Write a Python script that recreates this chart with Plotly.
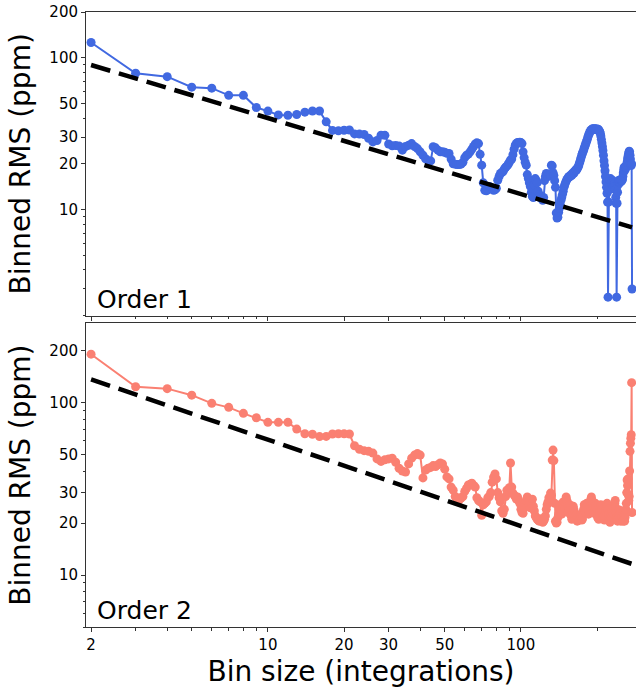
import plotly.graph_objects as go

# Bin sizes (integrations) shared by both orders
bin_size = list(range(2, 276))

# Binned RMS (ppm), Order 1, bin sizes 2..275
rms_order1 = [
    126, 79, 75, 64, 63, 56.5, 56.5, 47, 44.5, 42,
    41.8, 42.3, 43.8, 44.6, 44.6, 37.8, 33.2, 33.0, 33.3, 33.4,
    31.5, 31.4, 31.2, 29.5, 27.9, 28.5, 30.9, 30.8, 27.0, 26.3,
    26.4, 26.2, 24.6, 26.0, 26.5, 27.2, 26.0, 25.2, 24.0, 22.8,
    21.6, 21.0, 20.9, 25.9, 25.5, 24.6, 24.0, 24.0, 23.8, 23.5,
    23.4, 21.5, 20.0, 19.9, 19.8, 19.8, 19.9, 20.5, 22.0, 22.8,
    23.2, 24.0, 25.0, 26.0, 27.0, 27.5, 27.2, 23.1, 19.6, 15.0,
    13.4, 13.3, 13.5, 14.2, 14.0, 13.8, 13.4, 13.5, 13.8, 15.6,
    16.5, 17.3, 17.5, 17.8, 18.5, 19.0, 19.3, 19.8, 20.5, 21.2,
    21.5, 23.0, 25.0, 26.5, 27.3, 27.6, 27.5, 27.8, 27.6, 27.2,
    24.0, 22.0, 20.5, 19.6, 17.0, 16.0, 15.0, 14.2, 13.0, 12.2,
    12.0, 14.5, 16.0, 15.5, 15.0, 13.2, 12.5, 12.0, 12.3, 11.8,
    11.5, 12.0, 15.5, 16.5, 17.3, 17.0, 16.5, 17.0, 17.2, 16.8,
    19.6, 19.4, 17.5, 16.8, 15.5, 14.0, 9.5, 8.8, 8.9, 9.6,
    10.2, 10.8, 11.5, 12.0, 12.6, 13.2, 14.0, 14.5, 15.0, 15.4,
    15.8, 16.0, 16.3, 16.5, 16.4, 16.7, 17.0, 16.8, 17.2, 17.5,
    17.3, 17.8, 18.0, 18.3, 18.2, 18.6, 19.0, 19.3, 20.0, 20.6,
    21.3, 22.0, 22.8, 23.5, 24.0, 24.6, 25.5, 26.0, 26.8, 27.5,
    28.3, 29.0, 30.0, 30.8, 31.5, 32.2, 32.8, 33.2, 33.6, 33.8,
    34.0, 33.8, 34.0, 33.7, 33.9, 34.0, 33.8, 33.5, 33.9, 33.6,
    33.8, 33.4, 33.0, 32.6, 31.8, 30.5, 29.0, 27.5, 26.0, 24.5,
    22.8, 21.0, 19.5, 18.0, 16.5, 15.2, 14.0, 12.8, 11.2, 2.65,
    11.2, 13.5, 15.0, 15.6, 16.0, 15.4, 14.8, 15.2, 15.6, 15.0,
    14.4, 14.0, 14.6, 14.2, 13.5, 12.0, 11.0, 2.65, 11.0, 13.0,
    14.5, 15.2, 15.6, 15.3, 15.0, 15.2, 15.5, 15.6, 15.4, 15.6,
    15.8, 16.5, 17.5, 18.3, 19.0, 18.6, 18.2, 18.8, 19.3, 19.0,
    19.6, 20.5, 21.5, 22.3, 23.0, 23.6, 24.2, 24.0, 22.8, 21.5,
    20.0, 19.5, 20.0, 3.0,
]

# Binned RMS (ppm), Order 2, bin sizes 2..275
rms_order2 = [
    190, 123, 120, 110, 98.6, 93.5, 86.3, 81.4, 76.6, 76.6,
    76.6, 70, 65.8, 65.3, 63.3, 63.5, 65.5, 65.8, 65.8, 65.5,
    56, 53.5, 52.5, 52, 50.8, 47, 45.5, 46.5, 47, 47.5,
    45, 41.5, 40, 39.5, 44, 47.5, 49.5, 50.5, 49.5, 36.5,
    40.5, 41.5, 42, 43, 42.5, 43.5, 44.5, 44, 41, 37,
    36, 32.3, 31, 28.5, 27.5, 27.2, 27.9, 28.5, 30.5, 31.8,
    33.2, 33.5, 34, 33, 32.3, 28, 27, 26.5, 22.2, 25.5,
    26.0, 26.5, 28.0, 28.5, 30.0, 34.5, 36.9, 38.5, 36.0, 30.0,
    28.0, 26.5, 23.5, 22.8, 24.0, 28.5, 31.0, 30.5, 32.0, 44.5,
    32.3, 29.8, 29.0, 28.5, 27.5, 28.3, 27.0, 26.0, 24.0, 23.0,
    22.8, 24.5, 26.0, 27.0, 28.3, 26.5, 25.5, 24.5, 26.0, 27.5,
    25.0, 23.5, 22.0, 21.5, 21.0, 20.8, 20.5, 20.8, 21.2, 20.5,
    20.2, 20.5, 21.0, 22.0, 24.0, 25.5, 26.5, 28.0, 27.0, 29.8,
    29.0, 46.3, 52.9, 46.0, 26.0, 20.5, 20.0, 20.2, 21.5, 22.5,
    24.0, 25.5, 23.5, 22.5, 25.0, 26.5, 25.5, 24.5, 26.0, 28.3,
    27.0, 25.0, 23.0, 24.5, 25.5, 23.8, 22.0, 21.0, 22.5, 25.0,
    24.0, 22.8, 21.5, 22.0, 21.0, 20.5, 21.0, 21.2, 20.8, 21.5,
    22.5, 21.5, 20.8, 21.0, 22.0, 24.0, 25.5, 24.0, 23.0, 24.5,
    26.0, 24.8, 23.5, 22.5, 23.5, 25.0, 26.5, 27.5, 28.3, 27.0,
    25.5, 24.0, 23.0, 22.8, 24.5, 26.0, 25.0, 23.8, 22.5, 21.5,
    22.0, 21.0, 21.5, 23.0, 24.5, 25.5, 24.0, 23.0, 22.8, 22.0,
    21.5, 21.0, 20.8, 21.5, 22.0, 23.5, 24.8, 26.0, 25.0, 24.0,
    22.5, 21.0, 20.5, 20.2, 21.0, 21.5, 22.5, 24.0, 23.5, 22.0,
    21.5, 22.5, 24.0, 26.0, 27.0, 24.5, 22.8, 21.5, 21.0, 20.5,
    20.8, 21.5, 22.5, 23.8, 22.5, 21.0, 20.5, 21.0, 22.0, 21.5,
    20.8, 20.5, 21.2, 22.0, 21.0, 20.5, 21.5, 22.5, 24.0, 26.0,
    30.0, 35.5, 33.0, 36.0, 29.0, 27.0, 28.5, 40.0, 52.0, 58.0,
    62.0, 65.0, 130.0, 23.0,
]

# White-noise expectation: sigma / sqrt(bin size)
sigma_order1 = 126.6
sigma_order2 = 192.2
expected_order1 = [sigma_order1 / n ** 0.5 for n in bin_size]
expected_order2 = [sigma_order2 / n ** 0.5 for n in bin_size]

panel_labels = ["Order 1", "Order 2"]
x_tick_vals = [2, 10, 20, 30, 50, 100]
x_minor_vals = [3, 4, 5, 6, 7, 8, 9, 40, 60, 70, 80, 90, 200]
y_tick_vals = [10, 20, 30, 50, 100, 200]
y1_minor_vals = [2, 3, 4, 5, 6, 7, 8, 9, 40, 60, 70, 80, 90]
y2_minor_vals = [5, 6, 7, 8, 9, 40, 60, 70, 80, 90]

FONT = "DejaVu Sans"
AX = "#333333"
MARK = 9
LW = 2

fig = go.Figure()
fig.add_trace(go.Scatter(x=bin_size, y=rms_order1, mode="lines+markers",
                         line=dict(color="#4169E1", width=LW),
                         marker=dict(color="#4169E1", size=MARK),
                         xaxis="x", yaxis="y", showlegend=False))
fig.add_trace(go.Scatter(x=bin_size, y=expected_order1, mode="lines",
                         line=dict(color="black", width=4.5, dash="20px,9px"),
                         xaxis="x", yaxis="y", showlegend=False))
fig.add_trace(go.Scatter(x=bin_size, y=rms_order2, mode="lines+markers",
                         line=dict(color="#FA8072", width=LW),
                         marker=dict(color="#FA8072", size=MARK),
                         xaxis="x2", yaxis="y2", showlegend=False))
fig.add_trace(go.Scatter(x=bin_size, y=expected_order2, mode="lines",
                         line=dict(color="black", width=4.5, dash="20px,9px"),
                         xaxis="x2", yaxis="y2", showlegend=False))

x_range = [0.281, 2.455]
common_x = dict(type="log", range=x_range, showline=True, linecolor=AX, linewidth=1,
                mirror=True, ticks="outside", ticklen=4, tickwidth=1, tickcolor=AX,
                tickvals=x_tick_vals, ticktext=[str(v) for v in x_tick_vals],
                minor=dict(tickvals=x_minor_vals, ticks="outside", ticklen=2.5,
                           tickwidth=0.8, tickcolor=AX, showgrid=False),
                showgrid=False, zeroline=False,
                tickfont=dict(family=FONT, size=15, color="black"))
common_y = dict(type="log", showline=True, linecolor=AX, linewidth=1, mirror=False,
                ticks="outside", ticklen=4, tickwidth=1, tickcolor=AX,
                tickvals=y_tick_vals, ticktext=[str(v) for v in y_tick_vals],
                showgrid=False, zeroline=False,
                tickfont=dict(family=FONT, size=15, color="black"),
                title=dict(text="Binned RMS (ppm)", font=dict(family=FONT, size=28, color="black"),
                           standoff=10))

fig.update_layout(
    width=636, height=693,
    margin=dict(l=86, r=0, t=12, b=66),
    paper_bgcolor="white", plot_bgcolor="white",
    font=dict(family=FONT, color="black"),
    xaxis=dict(common_x, domain=[0, 1], anchor="y", showticklabels=False),
    xaxis2=dict(common_x, domain=[0, 1], anchor="y2", matches="x",
                title=dict(text="Bin size (integrations)",
                           font=dict(family=FONT, size=28, color="black"), standoff=8)),
    yaxis=dict(common_y, domain=[0.5062, 1.0], anchor="x", range=[0.30103, 2.30103],
               minor=dict(tickvals=y1_minor_vals, ticks="outside", ticklen=2.5,
                          tickwidth=0.8, tickcolor=AX, showgrid=False)),
    yaxis2=dict(common_y, domain=[0.0, 0.4938], anchor="x2", range=[0.69897, 2.4575],
                minor=dict(tickvals=y2_minor_vals, ticks="outside", ticklen=2.5,
                           tickwidth=0.8, tickcolor=AX, showgrid=False)),
    annotations=[
        dict(text=panel_labels[0], xref="x domain", yref="y domain", x=0, y=0,
             xanchor="left", yanchor="bottom", xshift=9, yshift=0, showarrow=False,
             font=dict(family=FONT, size=25, color="black")),
        dict(text=panel_labels[1], xref="x2 domain", yref="y2 domain", x=0, y=0,
             xanchor="left", yanchor="bottom", xshift=9, yshift=0, showarrow=False,
             font=dict(family=FONT, size=25, color="black")),
    ],
)

fig.write_html(
    "out.html",
    config={"displayModeBar": False},
    post_script="document.body.style.margin='0';document.body.style.overflow='hidden';",
)
